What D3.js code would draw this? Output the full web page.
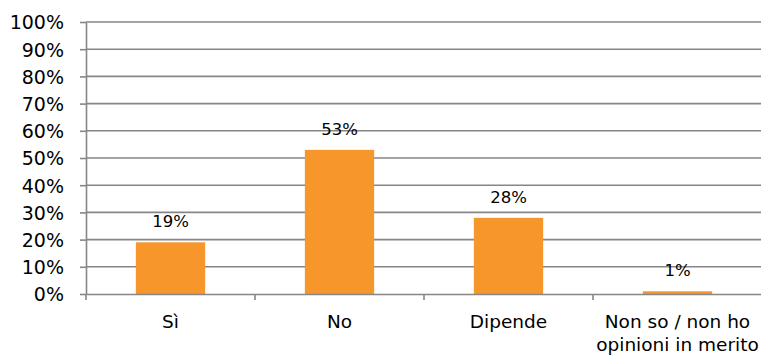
<!DOCTYPE html>
<html>
<head>
<meta charset="utf-8">
<script src="https://cdn.jsdelivr.net/npm/d3@7"></script>
<style>
  body { margin: 0; background: #fff; }
  text { font-family: "DejaVu Sans", Verdana, sans-serif; fill: #000; }
  .grid line { stroke: #868686; stroke-width: 1.6; }
  .axis path, .axis line { stroke: #868686; stroke-width: 1.6; }
</style>
</head>
<body>
<svg width="761" height="358"></svg>
<script>
const categories = ["Sì", "No", "Dipende", "Non so / non ho|opinioni in merito"],
      values = [19, 53, 28, 1],
      yTicks = [0, 10, 20, 30, 40, 50, 60, 70, 80, 90, 100]

const svg = d3.select("svg"),
      margin = {top: 22, right: 0, bottom: 64, left: 86},
      width = 762 - margin.left - margin.right,
      height = 358 - margin.top - margin.bottom,
      g = svg.append("g").attr("transform", "translate(" + margin.left + "," + margin.top + ")")

const x = d3.scaleBand().domain(categories).range([0, width]).paddingInner(0.59).paddingOuter(0.295),
      xb = d3.scaleBand().domain(categories).range([0, width]),
      y = d3.scaleLinear().domain([0, 100]).range([height, 0])

// gridlines
g.append("g")
  .attr("class", "grid")
  .selectAll("line")
  .data(yTicks.filter(d => d > 0))
  .enter().append("line")
    .attr("x1", 0)
    .attr("x2", width)
    .attr("y1", d => y(d))
    .attr("y2", d => y(d))

// bars
g.selectAll(".bar")
  .data(values)
  .enter().append("rect")
    .attr("class", "bar")
    .attr("x", (d, i) => x(categories[i]))
    .attr("width", x.bandwidth())
    .attr("y", d => y(d))
    .attr("height", d => height - y(d))
    .style("fill", "#F7962A")

// value labels
g.selectAll(".val")
  .data(values)
  .enter().append("text")
    .attr("class", "val")
    .attr("x", (d, i) => x(categories[i]) + x.bandwidth() / 2)
    .attr("y", d => y(d) - 15)
    .attr("text-anchor", "middle")
    .style("font-size", "16.5px")
    .text(d => d + "%")

// y axis
const yAxis = g.append("g")
  .attr("class", "axis")
  .call(d3.axisLeft(y).tickValues(yTicks).tickSize(6).tickSizeOuter(0).tickPadding(16).tickFormat(d => d + "%"))
yAxis.selectAll("text").style("font-size", "19px").attr("dy", "0.36em")

// x axis
const xAxis = g.append("g")
  .attr("class", "axis")
  .attr("transform", "translate(0," + height + ")")
  .call(d3.axisBottom(xb).tickValues([]).tickSizeOuter(0))
xAxis.selectAll(".sep")
  .data(d3.range(categories.length + 1))
  .enter().append("line")
    .attr("class", "sep")
    .attr("x1", i => i * xb.step())
    .attr("x2", i => i * xb.step())
    .attr("y1", 0)
    .attr("y2", 6)

xAxis.selectAll(".cat")
  .data(categories)
  .enter().append("text")
    .attr("class", "cat")
    .attr("x", d => xb(d) + xb.bandwidth() / 2)
    .attr("y", 34)
    .attr("text-anchor", "middle")
    .style("font-size", "18.5px")
    .each(function (d) {
      const lines = d.split("|")
      d3.select(this).selectAll("tspan")
        .data(lines)
        .enter().append("tspan")
          .attr("x", xb(d) + xb.bandwidth() / 2)
          .attr("dy", (l, i) => i === 0 ? 0 : 23)
          .text(l => l)
    })
</script>
</body>
</html>
